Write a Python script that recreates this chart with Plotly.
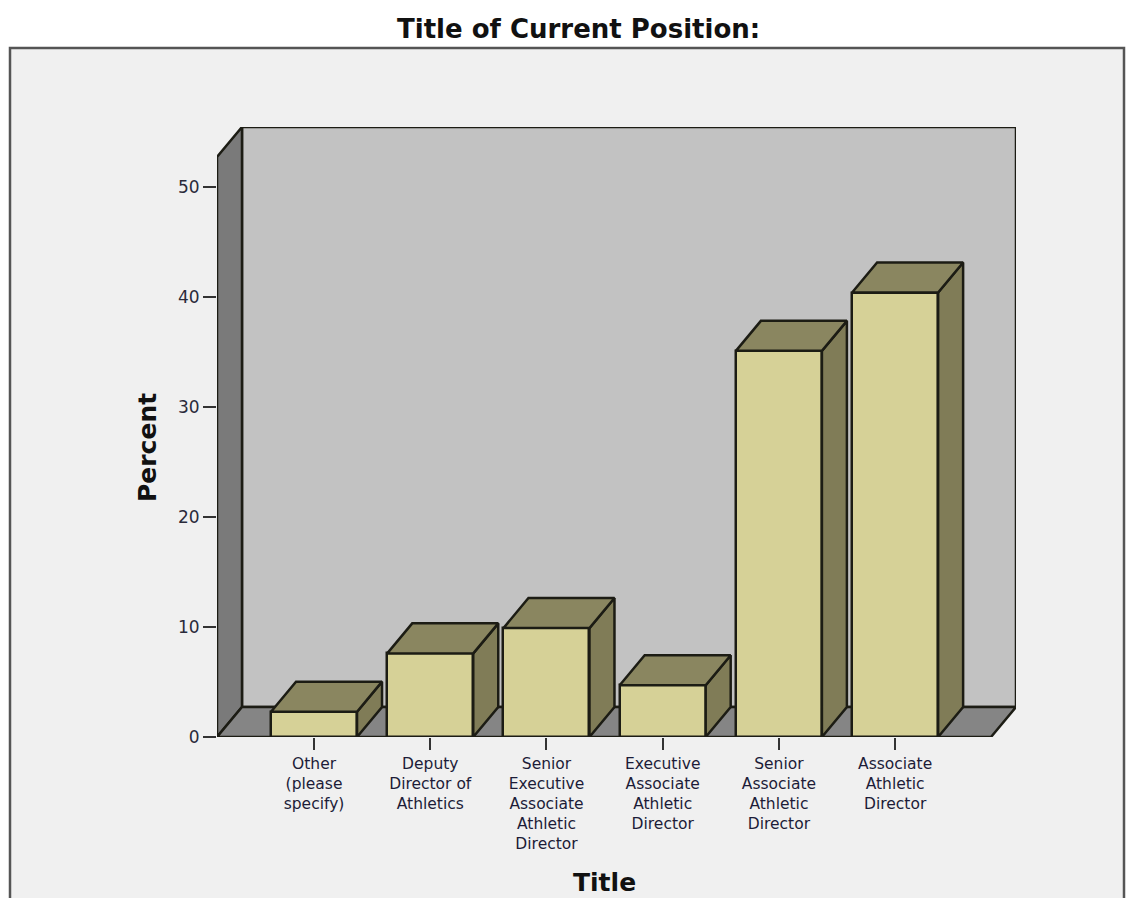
import plotly.graph_objects as go

# ---- data ----
categories = [
    "Other<br>(please<br>specify)",
    "Deputy<br>Director of<br>Athletics",
    "Senior<br>Executive<br>Associate<br>Athletic<br>Director",
    "Executive<br>Associate<br>Athletic<br>Director",
    "Senior<br>Associate<br>Athletic<br>Director",
    "Associate<br>Athletic<br>Director",
]
percent = [2.3, 7.6, 9.9, 4.7, 35.1, 40.4]
y_ticks = [0, 10, 20, 30, 40, 50]

# ---- style / geometry ----
W, H = 1126, 898
L, R, T, B = 217, 110, 127, 161
XMIN, XMAX = -0.835, 6.04
YMIN, YMAX = 0, 55.45
BAR_W = 0.74
DX, DY = 0.215, 2.73          # depth offset in data units
FRONT = "#d6d197"
TOP = "#8a8660"
SIDE = "#807c57"
EDGE = "#1c1c14"
BACKWALL = "#c2c2c2"
LEFTWALL = "#7a7a7a"
FLOOR = "#858585"
BG = "#f0f0f0"

xpos = list(range(len(categories)))

fig = go.Figure()

# front faces
fig.add_trace(go.Bar(
    x=xpos, y=percent, width=BAR_W,
    marker=dict(color=FRONT, line=dict(color=EDGE, width=2.5)),
    hoverinfo="skip", showlegend=False,
))

# top and side faces derived from data
tx, ty, sx, sy = [], [], [], []
for c, v in zip(xpos, percent):
    l, r = c - BAR_W / 2, c + BAR_W / 2
    tx += [l, r, r + DX, l + DX, l, None]
    ty += [v, v, v + DY, v + DY, v, None]
    sx += [r, r + DX, r + DX, r, r, None]
    sy += [0, DY, v + DY, v, 0, None]

fig.add_trace(go.Scatter(x=sx, y=sy, mode="lines", fill="toself", fillcolor=SIDE,
                         line=dict(color=EDGE, width=2.5), hoverinfo="skip", showlegend=False))
fig.add_trace(go.Scatter(x=tx, y=ty, mode="lines", fill="toself", fillcolor=TOP,
                         line=dict(color=EDGE, width=2.5), hoverinfo="skip", showlegend=False))

# walls / floor (decoration)
floor_right = XMAX - DX
shapes = []

def px2paper_x(p):
    return (p - L) / (W - L - R)

def px2paper_y(p):
    return 1 - (p - T) / (H - T - B)

# outer frame
shapes.append(dict(type="rect", xref="paper", yref="paper",
                   x0=px2paper_x(10), x1=px2paper_x(1124), y0=px2paper_y(910), y1=px2paper_y(48),
                   fillcolor=BG, line=dict(color="#555555", width=2.5), layer="below"))
# back wall
shapes.append(dict(type="rect", xref="x", yref="y", x0=XMIN + DX, x1=XMAX, y0=DY, y1=YMAX,
                   fillcolor=BACKWALL, line=dict(color=EDGE, width=2.5), layer="below"))
# left wall
shapes.append(dict(type="path", xref="x", yref="y",
                   path=f"M {XMIN},0 L {XMIN},{YMAX-DY} L {XMIN+DX},{YMAX} L {XMIN+DX},{DY} Z",
                   fillcolor=LEFTWALL, line=dict(color=EDGE, width=2.5), layer="below"))
# floor
shapes.append(dict(type="path", xref="x", yref="y",
                   path=f"M {XMIN},0 L {floor_right},0 L {XMAX},{DY} L {XMIN+DX},{DY} Z",
                   fillcolor=FLOOR, line=dict(color=EDGE, width=2.5), layer="below"))

BOLD = "DejaVu Sans"

fig.update_layout(
    width=W, height=H,
    margin=dict(l=L, r=R, t=T, b=B, pad=0),
    paper_bgcolor="white", plot_bgcolor="rgba(0,0,0,0)",
    shapes=shapes,
    bargap=0,
    xaxis=dict(range=[XMIN, XMAX], tickvals=xpos, ticktext=categories,
               showgrid=False, zeroline=False, showline=False,
               ticks="outside", ticklen=12, tickwidth=2, tickcolor="#333333",
               tickfont=dict(family="DejaVu Sans", size=15.5, color="#1c1c38"),
               tickangle=0, fixedrange=True),
    yaxis=dict(range=[YMIN, YMAX], tickvals=y_ticks,
               showgrid=False, zeroline=False, showline=False,
               ticks="outside", ticklen=13, tickwidth=2, tickcolor="#333333",
               tickfont=dict(family="DejaVu Sans", size=17, color="#2a2a3a"),
               fixedrange=True),
    annotations=[
        dict(text="<b>Title of Current Position:</b>", xref="paper", yref="paper",
             x=px2paper_x(578), y=px2paper_y(29), showarrow=False,
             xanchor="center", yanchor="middle",
             font=dict(family=BOLD, size=26, color="#111111")),
        dict(text="<b>Percent</b>", xref="paper", yref="paper",
             x=px2paper_x(147), y=px2paper_y(448), textangle=-90, showarrow=False,
             xanchor="center", yanchor="middle",
             font=dict(family=BOLD, size=25, color="#111111")),
        dict(text="<b>Title</b>", xref="paper", yref="paper",
             x=px2paper_x(604), y=px2paper_y(882), showarrow=False,
             xanchor="center", yanchor="middle",
             font=dict(family=BOLD, size=25, color="#111111")),
    ],
)

fig.write_html("out.html")
